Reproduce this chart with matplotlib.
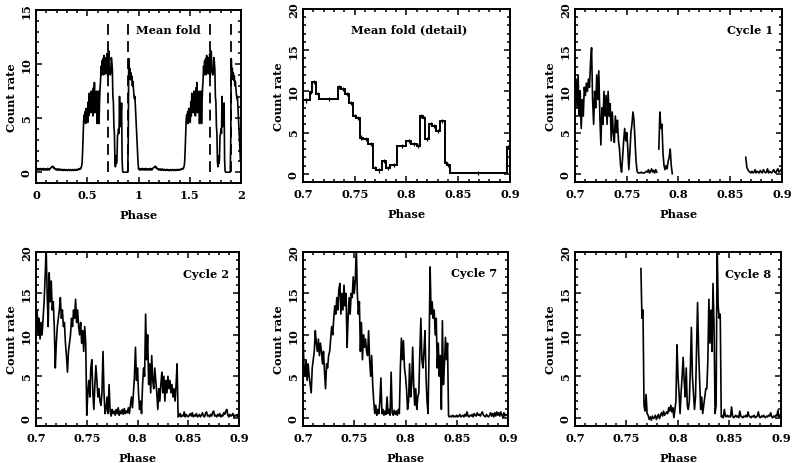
import numpy as np
import matplotlib
matplotlib.use("Agg")
import matplotlib.pyplot as plt
from matplotlib.ticker import MultipleLocator, FuncFormatter

nan = np.nan

# ---------------- data ----------------
# Mean fold, one cycle (phase 0 .. 0.995, bins of 0.005); plotted twice (phase 0-2)
fold_start = 0.0
fold_step = 0.005
fold_rate = [
    0.30, 0.25, 0.35, 0.20, 0.30, 0.25, 0.30, 0.20, 0.35, 0.25,
    0.30, 0.20, 0.30, 0.25, 0.35, 0.20, 0.30, 0.25, 0.30, 0.20,
    0.25, 0.30, 0.20, 0.35, 0.25, 0.30, 0.20, 0.30, 0.35, 0.40,
    0.45, 0.50, 0.45, 0.55, 0.40, 0.45, 0.35, 0.30, 0.25, 0.30,
    0.20, 0.25, 0.30, 0.20, 0.25, 0.20, 0.30, 0.25, 0.20, 0.25,
    0.20, 0.25, 0.20, 0.15, 0.25, 0.20, 0.25, 0.20, 0.15, 0.20,
    0.20, 0.15, 0.20, 0.25, 0.20, 0.15, 0.20, 0.25, 0.20, 0.15,
    0.20, 0.25, 0.20, 0.15, 0.20, 0.25, 0.20, 0.20, 0.25, 0.20,
    0.25, 0.20, 0.25, 0.30, 0.25, 0.30, 0.35, 0.30, 0.40, 0.55,
    0.90, 2.00, 3.50, 4.80, 5.30, 4.60, 5.60, 4.50, 5.90, 4.70,
    5.50, 4.60, 6.50, 5.20, 7.30, 5.80, 6.80, 5.50, 7.50, 6.00,
    6.50, 5.20, 7.80, 6.00, 8.30, 5.50, 7.20, 6.20, 7.50, 4.50,
    7.00, 5.20, 7.50, 4.50, 6.50, 7.80, 8.50, 9.80, 9.00, 10.30,
    9.20, 10.50, 9.00, 10.80, 9.40, 10.20, 9.10, 10.60, 9.30, 11.00,
    8.90, 10.50, 11.20, 9.50, 9.20, 9.00, 9.30, 10.60, 10.20, 9.50,
    7.00, 6.50, 4.30, 3.60, 1.00, 0.50, 1.50, 0.80, 1.20, 3.40,
    3.50, 4.00, 3.60, 7.00, 4.20, 6.00, 5.20, 6.40, 1.20, 0.10,
    0.00, 0.00, 0.00, 0.00, 0.00, 0.00, 0.00, 0.00, 0.00, 0.00,
    3.00, 10.50, 9.00, 9.60, 8.60, 9.20, 8.50, 8.90, 8.00, 8.40,
    7.80, 7.20, 6.80, 7.00, 6.00, 5.00, 4.00, 3.00, 2.00, 1.00,
]
fold_marks = [0.7, 0.9, 1.7, 1.9]   # dashed phase markers

# Mean fold (detail): histogram bins
detail_edges = [0.700, 0.7065, 0.709, 0.713, 0.7155, 0.734, 0.7365, 0.741, 0.7445,
                0.748, 0.7516, 0.7548, 0.758, 0.763, 0.7677, 0.771, 0.7768, 0.7806,
                0.7845, 0.791, 0.800, 0.8048, 0.8097, 0.8129, 0.816, 0.818, 0.822,
                0.825, 0.8284, 0.832, 0.837, 0.839, 0.842, 0.8968, 0.900]
detail_rate = [8.9, 9.9, 11.1, 9.7, 9.1, 10.5, 10.3, 9.7, 8.6, 7.0,
               6.8, 4.4, 4.2, 3.6, 0.7, 0.4, 1.5, 0.7, 1.1, 3.4,
               4.0, 3.6, 3.4, 7.0, 6.8, 4.2, 6.0, 5.8, 5.2, 6.4,
               1.3, 1.1, 0.1, 3.2]

# Individual cycles: bins of 0.001 in phase from 0.700 to 0.900
cycle_start = 0.700
cycle_step = 0.001

cycle1_rate = [
    9, 11.5, 8, 12, 7, 10, 5.5, 9, 7, 10.5,
    9.5, 11, 10, 11.5, 10.5, 13.5, 15.3, 9, 6, 10,
    8, 12, 9, 12.5, 7, 3.5, 8, 6, 10, 7,
    9.5, 6, 10, 7, 8.5, 4, 7.5, 5, 3.8, 7,
    5, 6.5, 4, 3, 1, 0.2, 2, 4, 5.5, 4,
    5, 3, 0.5, 2.5, 5, 6, 7.5, 6.5, 4, 1.5,
    0.3, 0.1, 0.1, 0.1, 0.2, 0.1, 0.1, 0.1, 0.2, 0.3,
    0.2, 0.5, 0.1, 0.3, 0.6, 0.2, 0.4, 0.1, 0.5, 0.2,
    nan, 3, 7.5, 5.5, 6, 2.5, 1, 0.5, 1, 0.6,
    1.5, 2, 3, 1, 0, nan, nan, nan, nan, nan,
    nan, nan, nan, nan, nan, nan, nan, nan, nan, nan,
    nan, nan, nan, nan, nan, nan, nan, nan, nan, nan,
    nan, nan, nan, nan, nan, nan, nan, nan, nan, nan,
    nan, nan, nan, nan, nan, nan, nan, nan, nan, nan,
    nan, nan, nan, nan, nan, nan, nan, nan, nan, nan,
    nan, nan, nan, nan, nan, nan, nan, nan, nan, nan,
    nan, nan, nan, nan, nan, 2, 0.8, 0.5, 0.3, 0.2,
    0.1, 0.3, 0.1, 0.2, 0.5, 0.1, 0.3, 0.2, 0.1, 0.4,
    0.2, 0.1, 0.5, 0.3, 0.1, 0.2, 0.6, 0.1, 0.3, 0.2,
    0.1, 0.3, 0.5, 0.2, 0.1, 0.4, 0.6, 0.2, 0.3, 0.5,
    0.3,
]

cycle2_rate = [
    13, 13, 10, 12, 9.5, 11.5, 10, 12, 14, 17,
    20.5, 15, 11, 17.5, 14, 16.5, 13, 14, 11, 6,
    9, 11, 12, 13, 14.5, 12, 13, 11, 11.5, 9,
    7.5, 5.5, 8, 9, 10, 12, 11, 13, 12, 14.3,
    11.5, 13, 11, 10, 11.5, 9, 10.5, 8, 11, 9,
    0.3, 3, 4.5, 2.5, 6, 7, 3, 1, 4, 6.3,
    4.5, 2.5, 3.5, 2, 1.5, 3, 8, 3, 0.5, 1,
    2.5, 0.5, 4, 0.8, 0.2, 1, 0.5, 0.8, 0.3, 1,
    0.5, 1.2, 0.3, 0.8, 0.5, 1, 0.4, 1.1, 0.5, 0.8,
    0.6, 1.2, 0.5, 1.5, 2.5, 1.2, 3, 5, 8.5, 4.5,
    6, 3, 1, 2, 0.5, 4, 6, 5, 12.5, 7,
    10, 4, 6.5, 3, 7.5, 4.5, 3.5, 6, 4.5, 3,
    1, 3.5, 2, 4, 5.5, 3, 5, 2, 4.5, 3,
    5, 3.5, 4.5, 3, 4, 2.5, 3.5, 2, 4, 6.5,
    0.1, 0.2, 0.5, 0.1, 0.3, 0.2, 0.7, 0.1, 0.4, 0.2,
    0.1, 0.3, 0.5, 0.2, 0.6, 0.1, 0.3, 0.2, 0.5, 0.1,
    0.2, 0.4, 0.1, 0.3, 0.6, 0.2, 0.1, 0.5, 0.7, 0.2,
    0.3, 0.1, 0.4, 0.2, 0.6, 0.8, 0.2, 0.3, 0.1, 0.4,
    0.2, 0.5, 0.1, 0.3, 0.2, 0.6, 0.4, 0.8, 1.0, 0.3,
    0.1, 0.4, 0.2, 0.3, 0.5, 0.1, 0.3, 0.2, 0.4, 0.1,
    0.3,
]

cycle7_rate = [
    10, 6, 5, 7, 4.5, 6.5, 5, 4, 3, 6,
    7, 8, 10.5, 9, 8, 9.5, 7.5, 9, 8, 6.5,
    8, 5.5, 3.5, 6.5, 6, 7.5, 8, 9.5, 11, 10,
    12, 13.5, 12.5, 14.5, 13, 15.5, 16.2, 12.5, 15, 13,
    16, 13.5, 15, 8.5, 12, 14.5, 12.5, 15, 14.5, 17,
    15, 16.5, 20.5, 15, 12.5, 14, 8, 11.5, 7, 10,
    8.5, 9.5, 8, 7.5, 10.5, 7, 5, 7.5, 4, 2,
    0.5, 1.5, 0.3, 1, 0.5, 2, 4.8, 0.5, 1, 0.3,
    0.8, 0.4, 2.5, 0.5, 1, 0.3, 5.5, 0.6, 0.3, 0.9,
    0.4, 0.8, 0.3, 1, 0.5, 6, 9.6, 7, 9.3, 6,
    5, 3.5, 1, 2, 6.5, 2.5, 4, 8.5, 4, 1.5,
    3.5, 1, 2.5, 3, 8, 12, 7, 6, 8, 10.5,
    5, 2, 0.5, 8, 18.2, 12.5, 14, 12, 13, 10,
    12, 6, 9, 5, 7.5, 1, 11.7, 4, 6.5, 9.7,
    7, 9, 0.2, 0.1, 0.2, 0.1, 0.3, 0.1, 0.2, 0.1,
    0.3, 0.1, 0.2, 0.4, 0.1, 0.2, 0.3, 0.1, 0.4, 0.2,
    0.7, 0.2, 0.1, 0.3, 0.2, 0.4, 0.1, 0.5, 0.3, 0.2,
    0.6, 0.3, 0.4, 0.2, 0.5, 0.7, 0.3, 0.2, 0.1, 0.4,
    0.2, 0.1, 0.3, 0.6, 0.2, 0.5, 0.1, 0.6, 0.2, 0.7,
    0.3, 0.6, 0.2, 0.7, 0.3, 0.1, 0.6, 0.2, 0.4, 0.3,
    0.4,
]

cycle8_rate = [
    nan, nan, nan, nan, nan, nan, nan, nan, nan, nan,
    nan, nan, nan, nan, nan, nan, nan, nan, nan, nan,
    nan, nan, nan, nan, nan, nan, nan, nan, nan, nan,
    nan, nan, nan, nan, nan, nan, nan, nan, nan, nan,
    nan, nan, nan, nan, nan, nan, nan, nan, nan, nan,
    nan, nan, nan, nan, nan, nan, nan, nan, nan, nan,
    nan, nan, nan, nan, 18, 12, 13, 1.5, 0.8, 2.8,
    0.5, 0.3, -0.2, 0.1, -0.3, 0.2, -0.1, 0.0, 0.3, -0.2,
    0.1, 0.4, -0.1, 0.3, 0.6, 0.2, 0.8, 0.3, 0.5, 0.7,
    0.5, 1.2, 0.8, 1.5, 0.7, 1.2, 0.0, 1.0, 2, 8.8,
    5, 3, 0.5, 3, 5, 7.3, 4.5, 2.5, 6, 1.5,
    1, 2, 6, 10.9, 5, 3, 1, 2.5, 8, 13.9,
    8, 4.5, 1, 2.5, 0.5, 1.5, 2.5, 3.5, 3.5, 7,
    14.3, 9, 13, 8, 16.2, 11, 0.5, 1.5, 21, 13.5,
    12, 12.5, 0.1, 0.2, 0.0, 1.0, 0.2, 0.1, 0.3, 0.1,
    0.2, 0.1, 1.3, 0.2, 0.0, 0.1, 0.3, 0.1, 0.2, 0.0,
    0.8, 0.2, 0.1, 0.0, 0.2, 0.1, 0.3, 0.1, 0.7, 0.2,
    0.1, 0.0, 0.2, 0.1, 0.3, 0.0, 0.1, 0.2, 0.7, 0.1,
    0.0, 0.2, 0.1, 0.3, 0.1, 0.0, 0.2, 0.1, 0.3, 0.2,
    0.6, 0.1, 0.0, 0.2, 0.1, 0.3, 0.2, 0.9, 0.1, 0.3,
    0.2,
]

panel_titles = ["Mean fold", "Mean fold (detail)", "Cycle 1", "Cycle 2", "Cycle 7", "Cycle 8"]

# ---------------- style ----------------
plt.rcParams["font.family"] = ["DejaVu Serif"]
plt.rcParams["font.weight"] = "bold"
plt.rcParams["axes.labelweight"] = "bold"
FS = 8.2

W, H = 798, 464
fig = plt.figure(figsize=(W / 100, H / 100), dpi=100)


def box(l, r, t, b):
    return [l / W, 1 - b / H, (r - l) / W, (b - t) / H]


fmt = FuncFormatter(lambda v, p: "%g" % round(v, 4))


def style(ax, xlim, ylim, xmaj, xmin, ymaj=5, ymin=1):
    ax.set_xlim(*xlim)
    ax.set_ylim(*ylim)
    ax.xaxis.set_major_locator(MultipleLocator(xmaj))
    ax.xaxis.set_minor_locator(MultipleLocator(xmin))
    ax.yaxis.set_major_locator(MultipleLocator(ymaj))
    ax.yaxis.set_minor_locator(MultipleLocator(ymin))
    ax.xaxis.set_major_formatter(fmt)
    ax.yaxis.set_major_formatter(fmt)
    ax.tick_params(which="both", direction="in", top=True, right=True, width=1.1,
                   colors="black", labelsize=FS)
    ax.tick_params(which="major", length=4.5)
    ax.tick_params(which="minor", length=2.2)
    ax.tick_params(axis="x", pad=4)
    ax.tick_params(axis="y", pad=3, labelrotation=90)
    for lab in ax.get_yticklabels():
        lab.set_va("center")
    for sp in ax.spines.values():
        sp.set_linewidth(1.4)
    ax.set_xlabel("Phase", labelpad=7, fontsize=FS)
    ax.set_ylabel("Count rate", labelpad=3, fontsize=FS)


lw = 1.2

# Panel 1: mean fold
ax1 = fig.add_axes(box(36, 241, 11, 184))
fold_phase = fold_start + fold_step * np.arange(len(fold_rate))
ax1.plot(np.concatenate([fold_phase, fold_phase + 1]),
         np.concatenate([fold_rate, fold_rate]), color="black", lw=lw)
for m in fold_marks:
    ax1.plot([m, m], [0, 14.2], color="black", lw=1.3, dashes=(6, 3.5))
style(ax1, (0, 2), (-1, 15), 0.5, 0.1)
ax1.text(1.29, 13.2, panel_titles[0], ha="center", va="center", fontsize=FS)

# Panel 2: mean fold detail
ax2 = fig.add_axes(box(303, 510, 10, 183))
ax2.stairs(detail_rate, detail_edges, baseline=None, color="black", lw=1.4)
centers = 0.5 * (np.array(detail_edges[:-1]) + np.array(detail_edges[1:]))
ax2.errorbar(centers, detail_rate, yerr=0.25, fmt="none", ecolor="black", elinewidth=0.9)
style(ax2, (0.7, 0.9), (-1, 20), 0.05, 0.01)
ax2.text(0.803, 17.6, panel_titles[1], ha="center", va="center", fontsize=FS)

cycle_phase = cycle_start + cycle_step * np.arange(len(cycle1_rate))

panels = [
    (box(575, 782, 10, 183), cycle1_rate, panel_titles[2], 0.8468, 17.5),
    (box(36, 239, 253, 427), cycle2_rate, panel_titles[3], 0.845, 17.4),
    (box(303, 508, 253, 427), cycle7_rate, panel_titles[4], 0.8447, 17.5),
    (box(575, 781, 253, 427), cycle8_rate, panel_titles[5], 0.846, 17.4),
]
for rect, rate, title, tx, ty in panels:
    ax = fig.add_axes(rect)
    ax.plot(cycle_phase, rate, color="black", lw=lw)
    style(ax, (0.7, 0.9), (-1, 20), 0.05, 0.01)
    ax.text(tx, ty, title, ha="left", va="center", fontsize=FS)

fig.savefig("out.png", dpi=100)
